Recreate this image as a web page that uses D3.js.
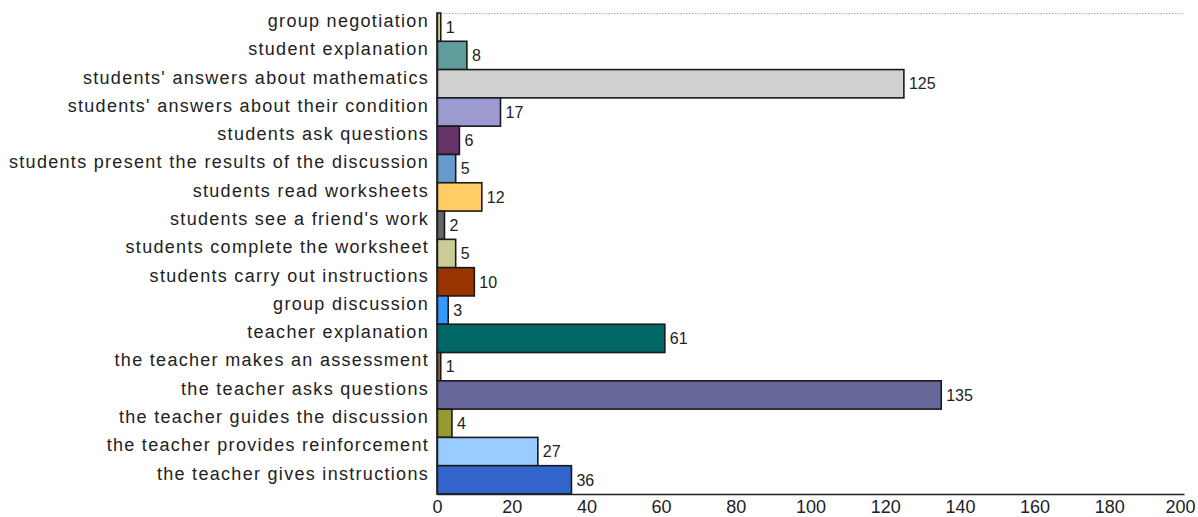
<!DOCTYPE html>
<html>
<head>
<meta charset="utf-8">
<script src="https://cdn.jsdelivr.net/npm/d3@7"></script>
<style>
  html, body { margin: 0; padding: 0; background: #fff; }
  svg { display: block; font-family: "Liberation Sans", Arial, sans-serif; }
</style>
</head>
<body>
<svg id="chart" width="1198" height="517"></svg>
<script>
// Classroom activity counts, listed top to bottom
const categories = [
  "group negotiation",
  "student explanation",
  "students' answers about mathematics",
  "students' answers about their condition",
  "students ask questions",
  "students present the results of the discussion",
  "students read worksheets",
  "students see a friend's work",
  "students complete the worksheet",
  "students carry out instructions",
  "group discussion",
  "teacher explanation",
  "the teacher makes an assessment",
  "the teacher asks questions",
  "the teacher guides the discussion",
  "the teacher provides reinforcement",
  "the teacher gives instructions"
];
const values = [1, 8, 125, 17, 6, 5, 12, 2, 5, 10, 3, 61, 1, 135, 4, 27, 36];
const barColors = [
  "#dede8c", "#5f9c9c", "#d0d0d0", "#9b9bd0", "#663366", "#6699cc",
  "#ffcc66", "#666666", "#cccc99", "#993300", "#3399ff", "#006666",
  "#996633", "#666699", "#999933", "#99ccff", "#3366cc"
];
const xTicks = [0, 20, 40, 60, 80, 100, 120, 140, 160, 180, 200];

const svg = d3.select("#chart");
const margin = { top: 13, right: 14, bottom: 23, left: 437 };
const W = 1198, H = 517;
const innerW = W - margin.left - margin.right;
const innerH = H - margin.top - margin.bottom;

const x = d3.scaleLinear().domain([0, 200]).range([0, innerW]);
const y = d3.scaleBand().domain(categories).range([0, innerH]).padding(0);

const g = svg.append("g").attr("transform", `translate(${margin.left},${margin.top})`);

// dotted top border of the plot area
g.append("line")
  .attr("x1", 0).attr("x2", innerW).attr("y1", 0.5).attr("y2", 0.5)
  .attr("stroke", "#aaa").attr("stroke-width", 1).attr("stroke-dasharray", "1.5,1.5");

// bars
g.selectAll("rect.bar")
  .data(values)
  .join("rect")
  .attr("class", "bar")
  .attr("x", 0)
  .attr("y", (d, i) => y(categories[i]))
  .attr("width", d => x(d))
  .attr("height", y.bandwidth())
  .attr("fill", (d, i) => barColors[i])
  .attr("stroke", "#1a1a1a")
  .attr("stroke-width", 1.6);

// value labels
g.selectAll("text.val")
  .data(values)
  .join("text")
  .attr("class", "val")
  .attr("x", d => x(d) + 5)
  .attr("y", (d, i) => y(categories[i]) + y.bandwidth() / 2)
  .attr("dy", "0.36em")
  .attr("font-size", 16)
  .attr("fill", "#222")
  .text(d => d);

// category axis (labels sit slightly above the bar centres)
const yAxis = g.append("g")
  .call(d3.axisLeft(y).tickSize(0).tickPadding(9));
yAxis.select(".domain").attr("stroke", "#222").attr("stroke-width", 1.5);
yAxis.selectAll(".tick text")
  .attr("font-size", 18)
  .attr("letter-spacing", "1.3px")
  .attr("fill", "#222")
  .attr("dx", "1px")
  .attr("y", -6)
  .attr("font-family", "\"Liberation Sans\", Arial, sans-serif");

// value axis
const xAxis = g.append("g")
  .attr("transform", `translate(0,${innerH})`)
  .call(d3.axisBottom(x).tickValues(xTicks).tickSize(0).tickPadding(6));
xAxis.select(".domain").attr("stroke", "#222").attr("stroke-width", 1.5);
xAxis.selectAll("text")
  .attr("font-size", 18)
  .attr("fill", "#222")
  .attr("font-family", "\"Liberation Sans\", Arial, sans-serif");
// keep the last tick label inside the page
xAxis.selectAll(".tick text")
  .filter(d => d === 200)
  .attr("text-anchor", "end")
  .attr("dx", "11px");
</script>
</body>
</html>
